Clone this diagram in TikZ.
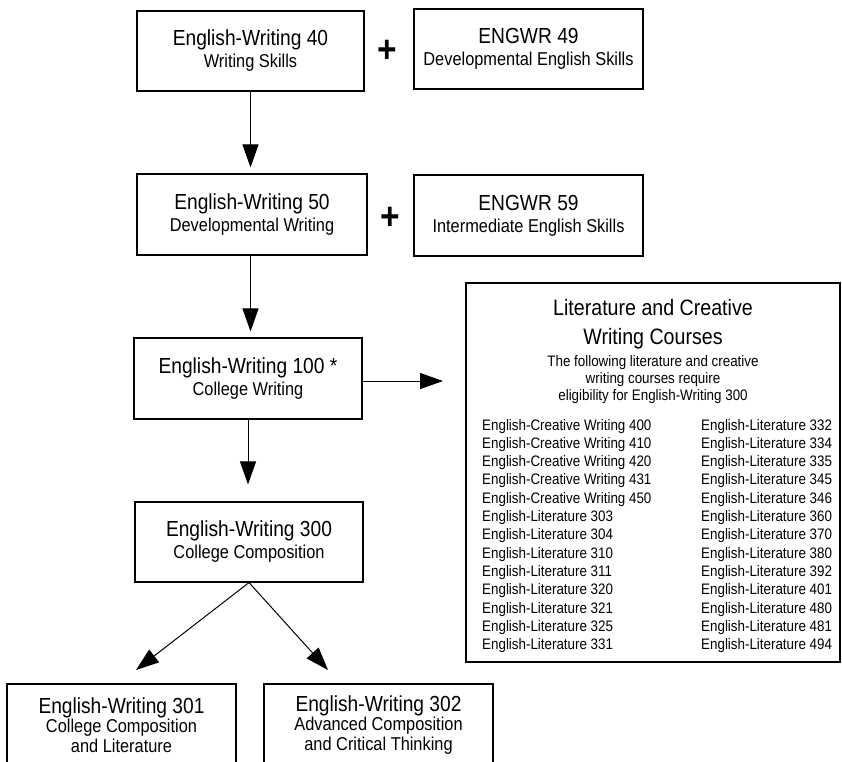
\documentclass[tikz,border=0pt]{standalone}
\usepackage{fontspec}
\setmainfont[FakeStretch=0.88]{Liberation Sans}
\usetikzlibrary{arrows.meta}
\newcommand{\ttlfont}{\fontsize{21.8}{24}\selectfont}
\begin{document}
\begin{tikzpicture}[x=1pt,y=-1pt,
  box/.style={draw, line width=1.1pt, inner sep=0pt, align=center,
    font=\fontsize{18.6}{22}\selectfont},
  box3l/.style={box, font=\fontsize{18.6}{19.5}\selectfont},
  arr/.style={line width=1pt, -{Triangle[length=23pt,width=16pt]}},
  plus/.style={font=\fontsize{38}{38}\selectfont\bfseries, inner sep=0pt},
  headbig/.style={anchor=base, inner sep=0pt, font=\fontsize{22.3}{24}\selectfont},
  headsmall/.style={anchor=base, inner sep=0pt, font=\fontsize{15.2}{17}\selectfont},
  listtxt/.style={anchor=base west, inner sep=0pt, font=\fontsize{15.2}{17}\selectfont}]
\useasboundingbox (0,0) rectangle (842,761);
\clip (0,0) rectangle (842,761);

% left column boxes
\node[box, minimum width=227pt, minimum height=80pt] (ew40) at (250.5,51)
  {{\ttlfont English-Writing 40}\\Writing Skills};
\node[box, minimum width=229pt, minimum height=80pt] (ewr49) at (528.5,49)
  {{\ttlfont ENGWR 49}\\Developmental English Skills};
\node[plus] (plus1) at (387,51) {+};

\node[box, minimum width=230pt, minimum height=81pt] (ew50) at (252,214.5)
  {{\ttlfont English-Writing 50}\\Developmental Writing};
\node[box, minimum width=229pt, minimum height=81pt] (ewr59) at (528.5,215.5)
  {{\ttlfont ENGWR 59}\\Intermediate English Skills};
\node[plus] (plus2) at (390,218) {+};

\node[box, minimum width=228pt, minimum height=81pt] (ew100) at (248,378.5)
  {{\ttlfont English-Writing 100 *}\\College Writing};

\node[box, minimum width=228pt, minimum height=80pt] (ew300) at (249,542)
  {{\ttlfont English-Writing 300}\\College Composition};

\node[box3l, minimum width=229pt, minimum height=82pt] (ew301) at (121.5,725)
  {{\ttlfont English-Writing 301}\\College Composition\\and Literature};
\node[box3l, minimum width=229pt, minimum height=82pt] (ew302) at (378.5,725)
  {{\ttlfont English-Writing 302}\\Advanced Composition\\and Critical Thinking};

% literature box
\node[draw, line width=1.1pt, inner sep=0pt, minimum width=374pt, minimum height=379pt] (lit) at (653,472.5) {};
\node[headbig] (lith1) at (653,315) {Literature and Creative};
\node[headbig] (lith2) at (653,344) {Writing Courses};
\node[headsmall] (lits1) at (653,366) {The following literature and creative};
\node[headsmall] (lits2) at (653,383) {writing courses require};
\node[headsmall] (lits3) at (653,400) {eligibility for English-Writing 300};

\foreach \t [count=\i] in {English-Creative Writing 400, English-Creative Writing 410,
  English-Creative Writing 420, English-Creative Writing 431, English-Creative Writing 450,
  English-Literature 303, English-Literature 304, English-Literature 310, English-Literature 311,
  English-Literature 320, English-Literature 321, English-Literature 325, English-Literature 331}
  \node[listtxt] (la\i) at (482,{430+18.3*(\i-1)}) {\t};
\foreach \t [count=\i] in {332,334,335,345,346,360,370,380,392,401,480,481,494}
  \node[listtxt] (lb\i) at (701,{430+18.3*(\i-1)}) {English-Literature \t};

% connectors
\draw[arr, shorten >=6pt] (ew40.south) -- (ew40.south |- ew50.north);
\draw[arr, shorten >=6pt] (ew40.south |- ew50.south) -- (ew40.south |- ew100.north);
\draw[arr, shorten >=17pt] (ew100.south) -- (ew100.south |- ew300.north);
\coordinate (tipR) at (443,381);
\draw[arr] (ew100.east |- tipR) -- (tipR);
\coordinate (t301) at (136,670);
\coordinate (t302) at (328,670);
\draw[arr] (ew300.south) -- (t301);
\draw[arr] (ew300.south) -- (t302);
\end{tikzpicture}
\end{document}
